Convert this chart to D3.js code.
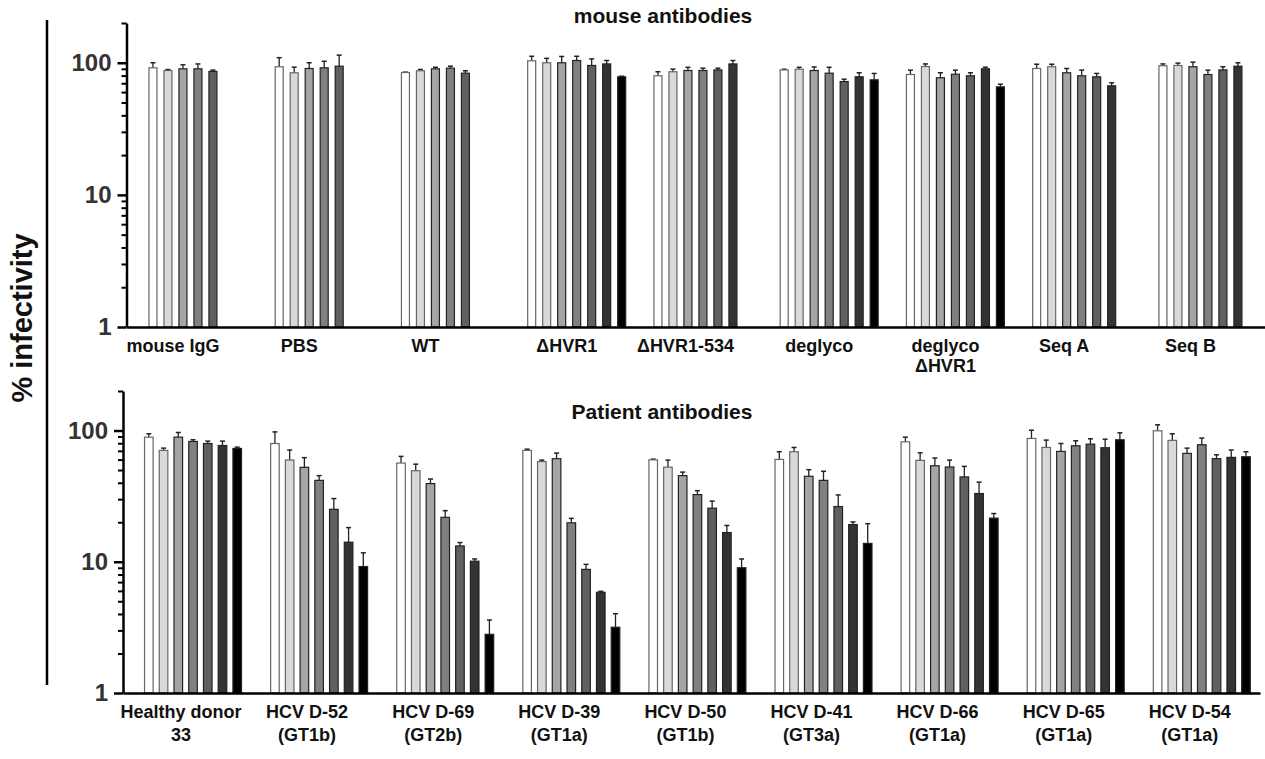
<!DOCTYPE html>
<html>
<head>
<meta charset="utf-8">
<script src="https://cdn.jsdelivr.net/npm/d3@7"></script>
<style>
  body { margin: 0; background: #fff; }
  svg { display: block; font-family: "Liberation Sans", Arial, sans-serif; }
  .cat { font-weight: bold; font-size: 18px; fill: #111; }
  .title { font-weight: bold; font-size: 21px; fill: #111; }
  .ytick text { font-weight: bold; font-size: 24px; fill: #333; }
</style>
</head>
<body>
<div id="chart"></div>
<script>
// categories (one array of text lines per group)
const topLabels = [["mouse IgG"], ["PBS"], ["WT"], ["ΔHVR1"], ["ΔHVR1-534"], ["deglyco"], ["deglyco", "ΔHVR1"], ["Seq A"], ["Seq B"]];
const bottomLabels = [["Healthy donor", "33"], ["HCV D-52", "(GT1b)"], ["HCV D-69", "(GT2b)"], ["HCV D-39", "(GT1a)"],
  ["HCV D-50", "(GT1b)"], ["HCV D-41", "(GT3a)"], ["HCV D-66", "(GT1a)"], ["HCV D-65", "(GT1a)"], ["HCV D-54", "(GT1a)"]];

// % infectivity, mean per bar
const topValues = [
  [91.6, 87.4, 90, 90, 86],
  [93.3, 84, 90.5, 91.6, 94.2],
  [84.4, 87, 90, 91, 83.4],
  [103.5, 100, 100, 104, 95.4, 98, 78.3],
  [79.7, 85.5, 87.4, 87.4, 88.3, 98],
  [88.3, 89.4, 87.4, 83.4, 72.1, 78.3, 74.3],
  [81.5, 93.7, 77, 81.9, 79.7, 90, 65.7],
  [90.5, 93.3, 84, 79.7, 78.3, 66.9],
  [94.9, 95.4, 93.3, 81.5, 88.3, 94.2]
];
// upper error bar length
const topErrors = [
  [8.5, 1.5, 6.5, 8, 2],
  [16, 8.6, 9.5, 11, 20],
  [0.5, 2, 2.5, 3.2, 3.6],
  [8.5, 8, 11.6, 8, 11.6, 6, 0.8],
  [5.8, 4, 5, 3.6, 2.7, 6],
  [1, 3, 5.6, 9, 3, 5.7, 8.7],
  [6.4, 4.3, 7, 6, 4.3, 2.6, 3.1],
  [7, 4.2, 6.5, 8.3, 4.7, 3.6],
  [3.1, 4, 7.8, 6.4, 5, 5.8]
];

const bottomValues = [
  [89, 70.5, 89, 82.5, 79.6, 76.9, 73],
  [79.6, 59.6, 52.4, 41.7, 25.1, 14.1, 9.2],
  [56.5, 49.4, 39.4, 21.8, 13.2, 10.1, 2.8],
  [70.5, 58, 61, 19.8, 8.75, 5.85, 3.17],
  [59.8, 52.6, 45.3, 32.5, 25.6, 16.7, 9.0],
  [60.2, 68.9, 44.8, 41.7, 26.3, 19.2, 13.8],
  [82, 59.2, 53.9, 52.7, 44.3, 33.1, 21.5],
  [87, 74.3, 69.3, 76.5, 78.7, 73.9, 85],
  [99.5, 84.1, 66.9, 77.9, 61, 62.4, 63.1]
];
const bottomErrors = [
  [5.4, 2.9, 7.6, 2.5, 3.4, 6.1, 1.7],
  [18, 11.4, 9.7, 3.6, 5.2, 4.1, 2.5],
  [7, 6, 3.3, 2.7, 0.8, 0.4, 0.8],
  [1.6, 1.5, 6.3, 1.6, 0.8, 0.1, 0.85],
  [0.7, 6.9, 2.9, 2.3, 3.4, 2.2, 1.5],
  [8.7, 5.4, 5.5, 7.2, 6, 0.9, 5.7],
  [7, 8.4, 7.8, 6.8, 9, 7.3, 1.8],
  [13.5, 10.2, 10.3, 7, 7.8, 12, 11],
  [11, 10.3, 6.5, 9.6, 4.3, 8.6, 5.8]
];

// y ticks
const majorTicks = [1, 10, 100];
const minorTicks = [2, 3, 4, 5, 6, 7, 8, 9, 20, 30, 40, 50, 60, 70, 80, 90, 200];

const fills = ["#ffffff", "#d9d9d9", "#a5a5a8", "#808080", "#606060", "#333333", "#000000"];

const W = 1265, H = 759;
const svg = d3.select("#chart").append("svg").attr("width", W).attr("height", H);

function drawPanel(o) {
  const groups = o.labels.map((d, i) => "g" + i);
  const x0 = d3.scaleBand().domain(groups).range([o.left, o.right])
    .paddingInner(o.pi).paddingOuter(o.po).align(o.align);
  const x1 = d3.scaleBand().domain(d3.range(7)).range([0, x0.bandwidth()]).paddingInner(o.barPad);
  const y = d3.scaleLog().domain([1, 200]).range([o.bottom, o.top]);

  const g = svg.append("g");

  // bars + error bars
  o.values.forEach((vals, gi) => {
    const gg = g.append("g").attr("transform", `translate(${x0(groups[gi])},0)`);
    vals.forEach((v, si) => {
      const bx = x1(si), bw = x1.bandwidth();
      const top = y(v), errTop = y(v + o.errors[gi][si]);
      const cx = bx + bw / 2;
      gg.append("line")
        .attr("x1", cx).attr("x2", cx).attr("y1", top).attr("y2", errTop)
        .attr("stroke", "#222").attr("stroke-width", 1.3);
      gg.append("line")
        .attr("x1", cx - 2.5).attr("x2", cx + 2.5).attr("y1", errTop).attr("y2", errTop)
        .attr("stroke", "#222").attr("stroke-width", 1.5);
      gg.append("rect")
        .attr("x", bx + 0.5).attr("y", top)
        .attr("width", bw - 1).attr("height", y(1) - top)
        .attr("fill", fills[si])
        .attr("stroke", si < 2 ? "#666" : "#222").attr("stroke-width", 1.2);
    });

    // category label, centred a little left of its bars
    const n = vals.length;
    const cxl = x0(groups[gi]) + (x1(0) + x1(n - 1) + x1.bandwidth()) / 2 - o.labelShift;
    const t = g.append("text").attr("class", "cat").attr("text-anchor", "middle")
      .attr("x", cxl).attr("y", o.labelY);
    o.labels[gi].forEach((line, li) => {
      t.append("tspan").attr("x", cxl).attr("dy", li === 0 ? 0 : o.lineGap).text(line);
    });
  });

  // x axis line
  const xa = g.append("g").attr("transform", `translate(0,${o.bottom})`)
    .call(d3.axisBottom(x0).tickSize(0).tickSizeOuter(0).tickFormat(""));
  xa.select(".domain").attr("stroke", "#000").attr("stroke-width", 2.5);

  // y axis: minor then major ticks
  const ya = g.append("g").attr("transform", `translate(${o.left},0)`)
    .call(d3.axisLeft(y).tickValues(minorTicks).tickSize(5).tickSizeOuter(0).tickFormat(""));
  ya.select(".domain").attr("stroke", "#000").attr("stroke-width", 2.5);
  ya.selectAll(".tick line").attr("stroke", "#000").attr("stroke-width", 2);

  const yb = g.append("g").attr("class", "ytick").attr("transform", `translate(${o.left},0)`)
    .call(d3.axisLeft(y).tickValues(majorTicks).tickSize(9).tickPadding(6).tickFormat(d3.format("d")));
  yb.select(".domain").remove();
  yb.selectAll(".tick line").attr("stroke", "#000").attr("stroke-width", 2.5);
  yb.selectAll(".tick text").attr("font-family", null).attr("font-size", null);

  g.append("text").attr("class", "title").attr("text-anchor", "middle")
    .attr("x", o.titleX).attr("y", o.titleY).text(o.title);
}

drawPanel({
  labels: topLabels, values: topValues, errors: topErrors,
  left: 126.5, right: 1265, top: 23, bottom: 327,
  pi: 0.216, po: 0.117, align: 0.743, barPad: 0.4,
  labelY: 352, lineGap: 20, labelShift: 10,
  title: "mouse antibodies", titleX: 663, titleY: 23
});

drawPanel({
  labels: bottomLabels, values: bottomValues, errors: bottomErrors,
  left: 123, right: 1260, top: 391, bottom: 693,
  pi: 0.223, po: 0.12, align: 0.695, barPad: 0.35,
  labelY: 718, lineGap: 23, labelShift: 12,
  title: "Patient antibodies", titleX: 662, titleY: 419
});

// shared y label and bracket line
svg.append("line").attr("x1", 47).attr("x2", 47).attr("y1", 20).attr("y2", 685)
  .attr("stroke", "#000").attr("stroke-width", 2.5);
svg.append("text")
  .attr("transform", "translate(32,318) rotate(-90)")
  .attr("text-anchor", "middle")
  .style("font-weight", "bold").style("font-size", "29px").style("fill", "#111")
  .text("% infectivity");
</script>
</body>
</html>
